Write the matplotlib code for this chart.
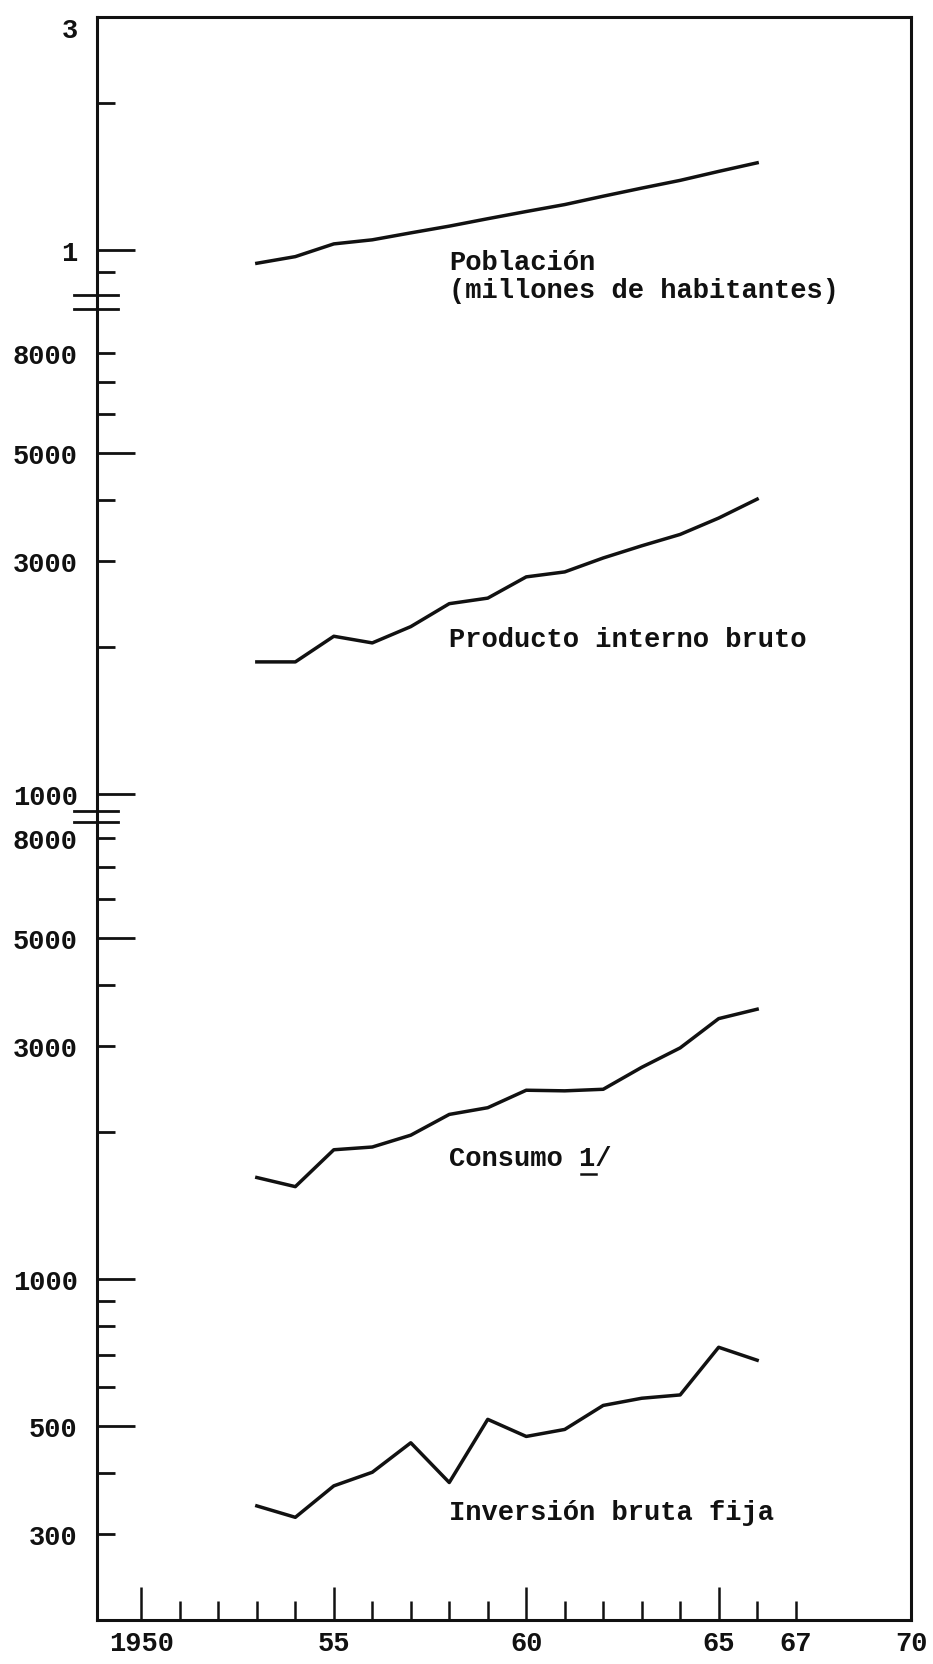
import numpy as np
import matplotlib.pyplot as plt
from matplotlib.transforms import blended_transform_factory

plt.rcParams['font.family'] = ['Liberation Mono', 'DejaVu Sans Mono']
plt.rcParams['font.weight'] = 'bold'

years = list(range(1953, 1967))
poblacion = [0.94, 0.97, 1.03, 1.05, 1.085, 1.12, 1.16, 1.20, 1.24, 1.29, 1.34, 1.39, 1.45, 1.51]
pib = [1866, 1866, 2106, 2041, 2204, 2456, 2521, 2787, 2853, 3047, 3227, 3405, 3678, 4022]
consumo = [1615, 1547, 1841, 1865, 1972, 2175, 2245, 2438, 2431, 2449, 2716, 2977, 3418, 3573]
inversion = [343, 325, 377, 402, 462, 383, 516, 476, 492, 551, 570, 579, 725, 682]

# y ticks of each stacked log panel
pob_ticks = [3, 2, 1, 0.9]
pob_labels = ['3', '', '1', '']
pib_ticks = [8000, 7000, 6000, 5000, 4000, 3000, 2000, 1000]
pib_labels = ['8000', '', '', '5000', '', '3000', '', '1000']
low_ticks = [8000, 7000, 6000, 5000, 4000, 3000, 2000, 1000, 900, 800, 700, 600, 500, 400, 300]
low_labels = ['8000', '', '', '5000', '', '3000', '', '1000', '', '', '', '', '500', '', '300']

x_ticks = list(range(1950, 1968)) + [1970]
x_labels = {1950: '1950', 1955: '55', 1960: '60', 1965: '65', 1967: '67', 1970: '70'}

# every panel is log10(value) shifted down a common axis
off_pob = 0.0
off_pib = -4.1146
off_low = -5.1084


def pos(v, off):
    return np.log10(v) + off


fig = plt.figure(figsize=(9.33, 16.65), dpi=100)
ax = fig.add_axes([0.1041, 0.0264, 0.8724, 0.9626])
ax.set_xlim(1948.85, 1970)
ax.set_ylim(-2.807, 0.477)

ink = '#111111'
for vals, off in [(poblacion, off_pob), (pib, off_pib), (consumo, off_low), (inversion, off_low)]:
    ax.plot(years, pos(vals, off), color=ink, lw=2.5, solid_joinstyle='round')

yt = list(pos(pob_ticks, off_pob)) + list(pos(pib_ticks, off_pib)) + list(pos(low_ticks, off_low))
ax.set_yticks(yt)
ax.set_yticklabels(pob_labels + pib_labels + low_labels, fontsize=19.5)
ax.set_xticks(x_ticks)
ax.set_xticklabels([x_labels.get(y, '') for y in x_ticks], fontsize=19.5)
ax.tick_params(axis='y', direction='in', pad=14, colors=ink)
ax.tick_params(axis='x', direction='in', pad=7, colors=ink)

long_y = {2, 7, 11, 15, 19, 24}
for i, t in enumerate(ax.yaxis.get_major_ticks()):
    t.tick1line.set_markersize(27 if i in long_y else 13)
    t.tick1line.set_markeredgewidth(2.0)
# the "3" sits a little under the top edge
ax.yaxis.get_major_ticks()[0].label1.set_verticalalignment('top')

for y, t in zip(x_ticks, ax.xaxis.get_major_ticks()):
    if y == 1970:
        size = 0
    elif y in (1950, 1955, 1960, 1965):
        size = 24
    else:
        size = 14
    t.tick1line.set_markersize(size)
    t.tick1line.set_markeredgewidth(1.8)

for s in ax.spines.values():
    s.set_linewidth(2.2)
    s.set_color(ink)

# axis breaks
tr = blended_transform_factory(ax.transAxes, ax.transData)
for yb in [-0.0914, -0.1207, -1.1488, -1.1714]:
    ax.plot([-0.028, 0.026], [yb, yb], transform=tr, color=ink, lw=2.0, clip_on=False)

tk = dict(fontsize=19.5, color=ink, ha='left', va='center')
ax.text(1958.0, -0.053, 'Población\n(millones de habitantes)', linespacing=1.1, **tk)
ax.text(1958.0, -0.797, 'Producto interno bruto', **tk)
ax.text(1958.0, -1.860, 'Consumo 1/', **tk)
ax.plot([1961.42, 1961.80], [-1.893, -1.893], color=ink, lw=1.8)
ax.text(1958.0, -2.586, 'Inversión bruta fija', **tk)

fig.savefig('out.png', dpi=100)
